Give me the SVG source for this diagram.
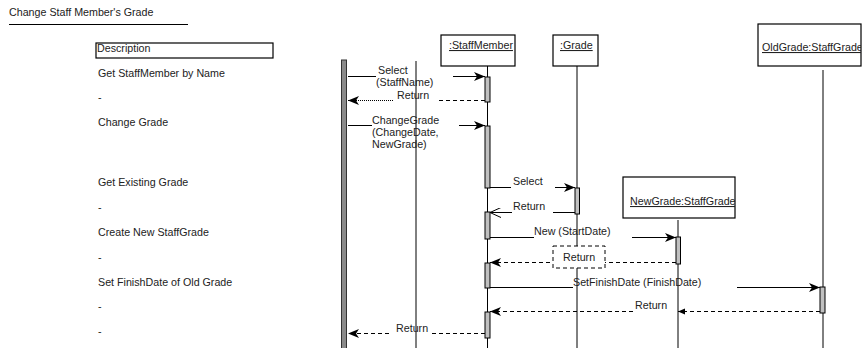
<svg xmlns="http://www.w3.org/2000/svg" width="864" height="348" viewBox="0 0 864 348">
<style>
text{font-family:"Liberation Sans",Arial,sans-serif;font-size:10.7px;fill:#222}
.box{fill:#fff;stroke:#000;stroke-width:1.2}
.life{stroke:#000;stroke-width:1;fill:none}
.act{fill:#c0c0c0;stroke:#000;stroke-width:1}
.msg{stroke:#000;stroke-width:1;fill:none}
.ret{stroke:#000;stroke-width:1;fill:none;stroke-dasharray:4,3}
.dot{stroke:#000;stroke-width:1;fill:none;stroke-dasharray:1,1}
.u{text-decoration:underline}
</style>
<defs>
<marker id="ah" markerWidth="12" markerHeight="10" refX="11" refY="5" orient="auto" markerUnits="userSpaceOnUse">
<path d="M0,0.5 L11,5 L0,9.5 L3,5 Z" fill="#000"/>
</marker>
<marker id="ao" markerWidth="12" markerHeight="10" refX="11" refY="5" orient="auto" markerUnits="userSpaceOnUse">
<path d="M0,0 L11,5 L0,10" fill="none" stroke="#000" stroke-width="1"/>
</marker>
<marker id="as" markerWidth="8" markerHeight="8" refX="7" refY="4" orient="auto" markerUnits="userSpaceOnUse">
<path d="M0,1 L7,4 L0,7 Z" fill="#000"/>
</marker>
<clipPath id="cSM"><rect x="441" y="35" width="74" height="31"/></clipPath>
<clipPath id="cNG"><rect x="623" y="177" width="112" height="41"/></clipPath>
<clipPath id="cOG"><rect x="758" y="24" width="103" height="42"/></clipPath>
</defs>

<g id="title">
<text x="9" y="16">Change Staff Member's Grade</text>
<line x1="9" y1="24.5" x2="188" y2="24.5" stroke="#000" stroke-width="1"/>
</g>

<g id="descriptions">
<rect class="box" x="96" y="43" width="177" height="15"/>
<text x="97" y="52">Description</text>
<text x="98" y="77">Get StaffMember by Name</text>
<text x="98" y="101">-</text>
<text x="98" y="126">Change Grade</text>
<text x="98" y="186">Get Existing Grade</text>
<text x="98" y="211">-</text>
<text x="98" y="236">Create New StaffGrade</text>
<text x="98" y="261">-</text>
<text x="98" y="286">Set FinishDate of Old Grade</text>
<text x="98" y="310">-</text>
<text x="98" y="335">-</text>
</g>

<g id="actor">
<rect x="341.5" y="60" width="5" height="290" fill="#8a8a8a" stroke="#333" stroke-width="1"/>
<line class="life" x1="416" y1="61" x2="416" y2="348"/>
</g>

<g id="staffMember">
<rect class="box" x="441" y="35" width="74" height="31"/>
<text x="449" y="49" class="u" clip-path="url(#cSM)">:StaffMember</text>
<line class="life" x1="487.5" y1="66" x2="487.5" y2="348"/>
<rect class="act" x="485" y="77" width="5" height="25"/>
<rect class="act" x="485" y="126" width="5" height="62"/>
<rect class="act" x="485" y="212" width="5" height="27"/>
<rect class="act" x="485" y="263" width="5" height="25"/>
<rect class="act" x="485" y="312" width="5" height="26"/>
</g>

<g id="grade">
<rect class="box" x="553" y="35" width="45" height="31"/>
<text x="560" y="49" class="u">:Grade</text>
<line class="life" x1="577" y1="66" x2="577" y2="348"/>
<rect class="act" x="575" y="188" width="4.5" height="26"/>
</g>

<g id="newGrade">
<rect class="box" x="623" y="177" width="112" height="41"/>
<text x="630" y="205" class="u" clip-path="url(#cNG)">NewGrade:StaffGrade</text>
<line class="life" x1="678" y1="220" x2="678" y2="348"/>
<rect class="act" x="676" y="237" width="4.5" height="27"/>
</g>

<g id="oldGrade">
<rect class="box" x="758" y="24" width="103" height="42"/>
<text x="762" y="51" class="u" clip-path="url(#cOG)">OldGrade:StaffGrade</text>
<line class="life" x1="823" y1="70" x2="823" y2="348"/>
<rect class="act" x="820" y="287" width="5" height="26"/>
</g>

<g id="connectors">
<line class="msg" x1="348" y1="76.5" x2="376" y2="76.5"/>
<line class="msg" x1="453" y1="76.5" x2="485" y2="76.5" marker-end="url(#ah)"/>
<text x="378" y="74">Select</text>
<text x="376" y="86">(StaffName)</text>
<line class="dot" x1="393" y1="100.5" x2="348" y2="100.5" marker-end="url(#ah)"/>
<line class="ret" x1="485" y1="100.5" x2="437" y2="100.5"/>
<text x="397" y="99">Return</text>
<line class="msg" x1="348" y1="125.5" x2="372" y2="125.5"/>
<line class="msg" x1="459" y1="125.5" x2="485" y2="125.5" marker-end="url(#ah)"/>
<text x="372" y="124">ChangeGrade</text>
<text x="372" y="136">(ChangeDate,</text>
<text x="372" y="148">NewGrade)</text>
<line class="msg" x1="490" y1="187.5" x2="511" y2="187.5"/>
<line class="msg" x1="555" y1="187.5" x2="575" y2="187.5" marker-end="url(#ah)"/>
<text x="513" y="185">Select</text>
<line class="msg" x1="512" y1="212.5" x2="490" y2="212.5" marker-end="url(#ao)"/>
<line class="msg" x1="575" y1="212.5" x2="553" y2="212.5"/>
<text x="513" y="210">Return</text>
<line class="msg" x1="490" y1="237.5" x2="534" y2="237.5"/>
<line class="msg" x1="632" y1="237.5" x2="676" y2="237.5" marker-end="url(#ah)"/>
<text x="534" y="235">New (StartDate)</text>
<line class="ret" x1="676" y1="262.5" x2="490" y2="262.5" marker-end="url(#ah)"/>
<rect x="553" y="246" width="52" height="22" fill="#fff" stroke="#000" stroke-width="1" stroke-dasharray="4,3"/>
<text x="563" y="261">Return</text>
<line class="msg" x1="490" y1="287.5" x2="573" y2="287.5"/>
<line class="msg" x1="737" y1="287.5" x2="820" y2="287.5" marker-end="url(#ah)"/>
<text x="573" y="286">SetFinishDate (FinishDate)</text>
<line class="ret" x1="633" y1="311.5" x2="490" y2="311.5" marker-end="url(#ah)"/>
<line class="ret" x1="820" y1="311.5" x2="678" y2="311.5" marker-end="url(#as)"/>
<text x="635" y="309">Return</text>
<line class="ret" x1="389" y1="333.5" x2="348" y2="333.5" marker-end="url(#ah)"/>
<line class="ret" x1="485" y1="333.5" x2="430" y2="333.5"/>
<text x="396" y="332">Return</text>
</g>
</svg>
